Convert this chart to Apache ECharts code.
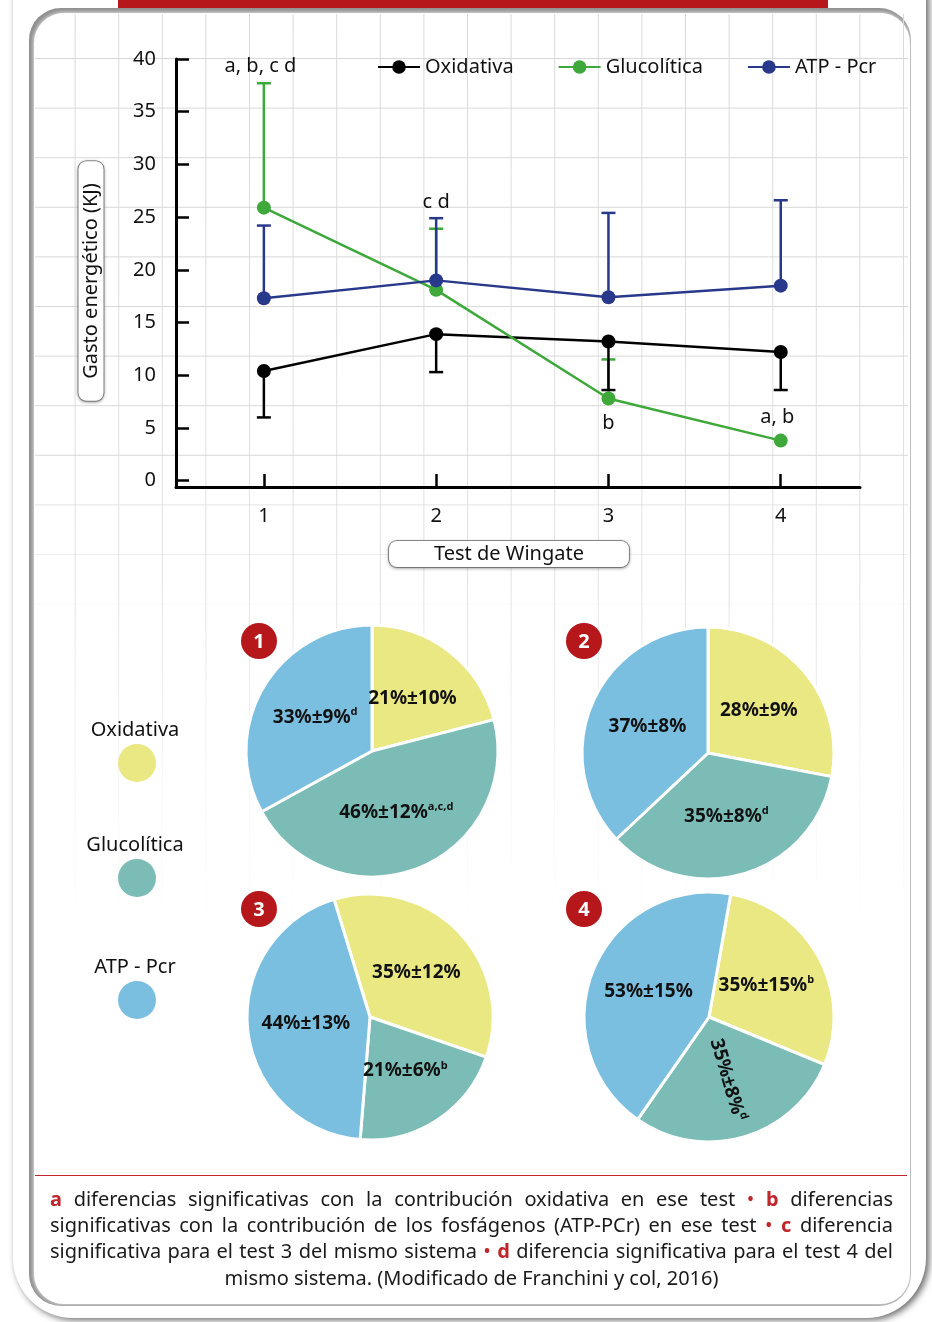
<!DOCTYPE html>
<html lang="es">
<head>
<meta charset="utf-8">
<title>Gasto energético en el test de Wingate</title>
<script src="https://cdn.jsdelivr.net/npm/echarts@6.0.0/dist/echarts.min.js"></script>
<style>
  html, body { margin: 0; padding: 0; background: #fff; }
  #chart { width: 932px; height: 1322px; }
</style>
</head>
<body>
<div id="chart"></div>
<script>
// Sistemas energéticos
const systems = ['Oxidativa', 'Glucolítica', 'ATP - Pcr'];
// Repeticiones del test de Wingate
const tests = [1, 2, 3, 4];
const yTicks = [0, 5, 10, 15, 20, 25, 30, 35, 40];

// Gasto energético medio (kJ) en cada test
const oxidativa   = [10.4, 13.9, 13.2, 12.2];
const glucolitica = [25.9, 18.1, 7.8, 3.8];
const atpPcr      = [17.3, 19.0, 17.4, 18.5];

// Extremo de la barra de desviación de cada punto
const oxidativaLow    = [6.0, 10.3, 8.6, 8.6];
const glucoliticaHigh = [37.7, 23.9, 11.5, null];
const atpPcrHigh      = [24.2, 24.9, 25.4, 26.6];

// Letras de significación: [test, nivel (kJ), texto]
const sigNotes = [
  [0.98, 39.3, 'a, b, c d'],
  [2, 26.4, 'c d'],
  [3, 5.4, 'b'],
  [3.98, 6.0, 'a, b']
];

// Contribución relativa (%) de cada sistema en los tests 1-4
const pieShares = [[21, 46, 33], [28, 35, 37], [35, 21, 44], [35, 35, 53]];
const pieSD     = [[10, 12, 9], [9, 8, 8], [12, 6, 13], [15, 8, 15]];
const pieMarks  = [['', 'a,c,d', 'd'], ['', 'd', ''], ['', 'b', ''], ['b', 'd', '']];

// Nota al pie, línea a línea ({k|x} = letra clave, {p|•} = separador)
const footLines = [
  '{k|a} diferencias significativas con la contribución oxidativa en ese test {p|•} {k|b} diferencias',
  'significativas con la contribución de los fosfágenos (ATP-PCr) en ese test {p|•} {k|c} diferencia',
  'significativa para el test 3 del mismo sistema {p|•} {k|d} diferencia significativa para el test 4 del',
  'mismo sistema. (Modificado de Franchini y col, 2016)'
];

const FONT = "'Noto Sans', 'Open Sans', sans-serif";
const lineColors = ['#000000', '#3ea83a', '#28388a'];
const pieColors = ['#e9e883', '#7bbcb6', '#7bbfe0'];
const RED = '#b5171b';

const pieLayout = [
  { center: [372, 751], r: 126, start: 90 },
  { center: [708, 753], r: 126, start: 90 },
  { center: [370, 1017], r: 123, start: 107 },
  { center: [709, 1017], r: 125, start: 80 }
];

const chart = echarts.init(document.getElementById('chart'), null, { renderer: 'canvas' });

// ---------- decorative frame and background grid ----------
const graphics = [];
graphics.push({
  type: 'rect', z: -20, silent: true,
  shape: { x: 13, y: -60, width: 913, height: 1378, r: 60 },
  style: { fill: '#fff', shadowBlur: 7, shadowColor: 'rgba(0,0,0,0.6)', shadowOffsetX: 3, shadowOffsetY: 2 }
});
graphics.push({
  type: 'rect', z: -19, silent: true,
  shape: { x: 29, y: 8, width: 882, height: 1298, r: 32 },
  style: { fill: '#8f8f8f' }
});
graphics.push({
  type: 'rect', z: -18, silent: true,
  shape: { x: 34, y: 13, width: 876, height: 1291, r: 30 },
  style: { fill: '#fff', shadowBlur: 5, shadowColor: '#ffffff' }
});
for (let x = 75.1; x < 908; x += 43.6) {
  graphics.push({
    type: 'line', z: -17, silent: true,
    shape: { x1: x, y1: 14, x2: x, y2: 930 },
    style: {
      lineWidth: 1,
      stroke: { type: 'linear', x: 0, y: 14, x2: 0, y2: 930, global: true,
        colorStops: [{ offset: 0, color: '#d9d9d9' }, { offset: 0.62, color: '#e2e2e2' }, { offset: 1, color: 'rgba(235,235,235,0)' }] }
    }
  });
}
for (let y = 58.5; y < 620; y += 49.6) {
  const fade = y < 460 ? 1 : Math.max(0, 1 - (y - 460) / 170);
  graphics.push({
    type: 'line', z: -17, silent: true,
    shape: { x1: 35, y1: y, x2: 908, y2: y },
    style: { lineWidth: 1, stroke: '#d9d9d9', opacity: fade }
  });
}
// top red band
graphics.push({ type: 'rect', z: 10, silent: true, shape: { x: 118, y: 0, width: 710, height: 8 }, style: { fill: RED } });

// axis titles in rounded boxes
graphics.push({
  type: 'text', z: 10, silent: true, x: 91, y: 281, rotation: Math.PI / 2,
  style: {
    text: 'Gasto energético (KJ)', font: '20px ' + FONT, fill: '#111',
    align: 'center', verticalAlign: 'middle',
    backgroundColor: '#fff', borderColor: '#8c8c8c', borderWidth: 1, borderRadius: 8,
    padding: [3, 22, 2, 22], shadowBlur: 3, shadowColor: 'rgba(0,0,0,0.25)', shadowOffsetY: 1
  }
});
graphics.push({
  type: 'text', z: 10, silent: true, x: 509, y: 554,
  style: {
    text: 'Test de Wingate', font: '20px ' + FONT, fill: '#111',
    align: 'center', verticalAlign: 'middle',
    backgroundColor: '#fff', borderColor: '#8c8c8c', borderWidth: 1, borderRadius: 8,
    padding: [3, 45, 3, 45], shadowBlur: 3, shadowColor: 'rgba(0,0,0,0.25)', shadowOffsetY: 1
  }
});

// legend for the pies
const pieLegendY = [730, 845, 967];
systems.forEach((name, i) => {
  graphics.push({ type: 'text', z: 10, silent: true, x: 135, y: pieLegendY[i],
    style: { text: name, font: '20px ' + FONT, fill: '#111', align: 'center', verticalAlign: 'middle' } });
  graphics.push({ type: 'circle', z: 10, silent: true,
    shape: { cx: 137, cy: pieLegendY[i] + 33, r: 19 }, style: { fill: pieColors[i] } });
});

// numbered badges
const badgePos = [[259, 641], [584, 641], [259, 909], [584, 909]];
badgePos.forEach((p, i) => {
  graphics.push({ type: 'circle', z: 10, silent: true, shape: { cx: p[0], cy: p[1], r: 18 }, style: { fill: RED } });
  graphics.push({ type: 'text', z: 11, silent: true, x: p[0], y: p[1] + 1,
    style: { text: String(tests[i]), font: 'bold 20px ' + FONT, fill: '#fff', align: 'center', verticalAlign: 'middle' } });
});

// footnote: rule and justified text
graphics.push({ type: 'line', z: 10, silent: true, shape: { x1: 35, y1: 1175.5, x2: 907, y2: 1175.5 },
  style: { stroke: '#c0272d', lineWidth: 1.2 } });

const FOOT_SIZE = 20;
const measureCtx = document.createElement('canvas').getContext('2d');
function parseWord(w) {
  const m = w.match(/^\{(\w)\|(.+)\}$/);
  return m ? { text: m[2], kind: m[1] } : { text: w, kind: '' };
}
function wordFont(kind) { return (kind === 'k' ? 'bold ' : '') + FOOT_SIZE + 'px ' + FONT; }
function wordWidth(wd) { measureCtx.font = wordFont(wd.kind); return measureCtx.measureText(wd.text).width; }
const footY = [1200, 1226, 1252, 1279];
const footLeft = 50, footRight = 893;
footLines.forEach((line, li) => {
  const words = line.split(/\s+/).map(parseWord);
  const widths = words.map(wordWidth);
  const total = widths.reduce((a, b) => a + b, 0);
  let gap, x;
  if (li < footLines.length - 1) {
    gap = (footRight - footLeft - total) / (words.length - 1);
    x = footLeft;
  } else {
    measureCtx.font = wordFont('');
    gap = measureCtx.measureText(' ').width;
    x = (footLeft + footRight) / 2 - (total + gap * (words.length - 1)) / 2;
  }
  words.forEach((wd, wi) => {
    graphics.push({ type: 'text', z: 10, silent: true, x: x, y: footY[li],
      style: { text: wd.text, font: wordFont(wd.kind), fill: wd.kind ? '#c0272d' : '#1a1a1a', align: 'left', verticalAlign: 'middle' } });
    x += widths[wi] + gap;
  });
});

// ---------- series ----------
function errorBars(name, color, centers, bounds) {
  const data = [];
  tests.forEach((t, i) => { if (bounds[i] != null) data.push([t, centers[i], bounds[i]]); });
  return {
    type: 'custom', name: name + ' (DE)', z: 1, silent: true, data,
    encode: { x: 0, y: [1, 2] },
    renderItem(params, api) {
      const a = api.coord([api.value(0), api.value(1)]);
      const b = api.coord([api.value(0), api.value(2)]);
      const st = { stroke: color, lineWidth: 2.5 };
      return { type: 'group', children: [
        { type: 'line', shape: { x1: a[0], y1: a[1], x2: b[0], y2: b[1] }, style: st },
        { type: 'line', shape: { x1: b[0] - 7, y1: b[1], x2: b[0] + 7, y2: b[1] }, style: st }
      ] };
    }
  };
}
const lineSeries = (name, values, color) => ({
  type: 'line', name, z: 3,
  data: tests.map((t, i) => [t, values[i]]),
  symbol: 'circle', symbolSize: 14,
  lineStyle: { color, width: 2.5 },
  itemStyle: { color },
  emphasis: { disabled: true }
});

const series = [
  errorBars(systems[1], lineColors[1], glucolitica, glucoliticaHigh),
  errorBars(systems[0], lineColors[0], oxidativa, oxidativaLow),
  errorBars(systems[2], lineColors[2], atpPcr, atpPcrHigh),
  lineSeries(systems[0], oxidativa, lineColors[0]),
  lineSeries(systems[1], glucolitica, lineColors[1]),
  lineSeries(systems[2], atpPcr, lineColors[2]),
  {
    type: 'custom', name: 'notas', z: 4, silent: true,
    data: sigNotes,
    encode: { x: 0, y: 1 },
    renderItem(params, api) {
      const p = api.coord([api.value(0), api.value(1)]);
      return {
        type: 'text', x: p[0], y: p[1],
        style: { text: sigNotes[params.dataIndex][2], font: '20px ' + FONT, fill: '#111', align: 'center', verticalAlign: 'middle' }
      };
    }
  }
];

const pieRich = {
  v: { fontSize: 19, fontWeight: 'bold', color: '#111', fontFamily: FONT, lineHeight: 22 },
  s: { fontSize: 11, fontWeight: 'bold', color: '#111', fontFamily: FONT, verticalAlign: 'top', lineHeight: 13 }
};
pieShares.forEach((shares, p) => {
  series.push({
    type: 'pie', name: 'Test ' + tests[p], silent: true, z: 5,
    center: pieLayout[p].center, radius: pieLayout[p].r,
    startAngle: pieLayout[p].start, clockwise: true,
    itemStyle: { borderColor: '#fff', borderWidth: 3 },
    labelLine: { show: false },
    label: {
      show: true, position: 'inside', rich: pieRich,
      formatter: prm => {
        const i = prm.dataIndex;
        const mark = pieMarks[p][i];
        return '{v|' + shares[i] + '%±' + pieSD[p][i] + '%}' + (mark ? '{s|' + mark + '}' : '');
      }
    },
    data: shares.map((v, i) => {
      const item = { name: systems[i], value: v, itemStyle: { color: pieColors[i] } };
      if (p === 3 && i === 1) item.label = { rotate: 'radial' };
      return item;
    })
  });
});

const option = {
  animation: false,
  backgroundColor: '#ffffff',
  textStyle: { fontFamily: FONT },
  grid: { left: 176, right: 72, top: 59, bottom: 835, containLabel: false },
  legend: {
    data: systems, left: 372, top: 52,
    itemWidth: 42, itemHeight: 17, itemGap: 44,
    textStyle: { fontSize: 20, color: '#111', fontFamily: FONT },
    selectedMode: false
  },
  xAxis: {
    type: 'value', min: 0.49, max: 4.46,
    axisLine: { onZero: false, lineStyle: { color: '#000', width: 3 } },
    axisTick: { show: true, inside: true, length: 13, lineStyle: { color: '#000', width: 2.5 }, customValues: tests },
    axisLabel: { fontSize: 20, color: '#111', margin: 19, customValues: tests },
    splitLine: { show: false }
  },
  yAxis: {
    type: 'value', min: -0.6, max: 40,
    axisLine: { show: true, onZero: false, lineStyle: { color: '#000', width: 3 } },
    axisTick: { show: true, inside: true, length: 13, lineStyle: { color: '#000', width: 2.5 }, customValues: yTicks },
    axisLabel: { fontSize: 20, color: '#111', margin: 20, customValues: yTicks },
    splitLine: { show: false }
  },
  graphic: { elements: graphics },
  series
};
chart.setOption(option);
</script>
</body>
</html>
